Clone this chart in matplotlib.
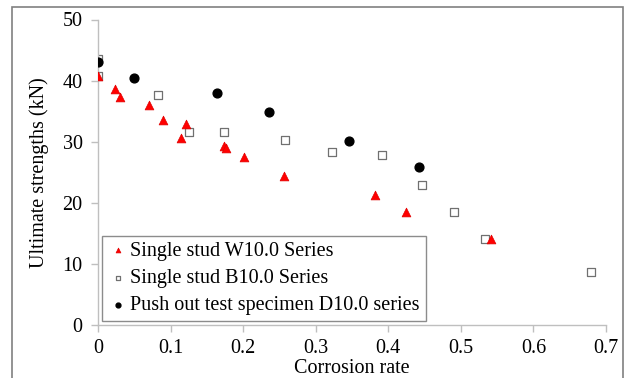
import matplotlib
matplotlib.use("Agg")
import matplotlib.pyplot as plt
from matplotlib.patches import Rectangle

w_x = [0.0, 0.023, 0.031, 0.070, 0.0895, 0.121, 0.115, 0.173, 0.177, 0.201, 0.256, 0.382, 0.424, 0.541]
w_y = [40.7, 38.6, 37.3, 36.0, 33.5, 32.9, 30.6, 29.3, 29.0, 27.5, 24.4, 21.3, 18.5, 14.1]
b_x = [0.0, 0.0, 0.0826, 0.126, 0.174, 0.258, 0.322, 0.392, 0.447, 0.490, 0.533, 0.680]
b_y = [43.5, 40.7, 37.6, 31.6, 31.6, 30.2, 28.3, 27.8, 22.9, 18.5, 14.1, 8.6]
d_x = [0.0, 0.0496, 0.164, 0.236, 0.346, 0.443]
d_y = [43.0, 40.5, 38.0, 34.9, 30.1, 25.8]

xticks = [0, 0.1, 0.2, 0.3, 0.4, 0.5, 0.6, 0.7]
xticklabels = ["0", "0.1", "0.2", "0.3", "0.4", "0.5", "0.6", "0.7"]
yticks = [0, 10, 20, 30, 40, 50]

plt.rcParams['font.family'] = ['Liberation Serif', 'DejaVu Serif']

W, H = 627, 378
FS = 14.5
fig = plt.figure(figsize=(W/100, H/100), dpi=100)
ax = fig.add_axes([98/W, 1-325/H, (606-98)/W, (325-19.5)/H])

ax.scatter(w_x, w_y, marker='^', s=40, color='#FF0000', edgecolors='#E00000', linewidths=0.5, zorder=3,
           label='Single stud W10.0 Series')
ax.scatter(b_x, b_y, marker='s', s=34, facecolors='white', edgecolors='#707070', linewidths=0.9, zorder=2,
           label='Single stud B10.0 Series')
ax.scatter(d_x, d_y, marker='o', s=40, color='black', zorder=4,
           label='Push out test specimen D10.0 series')

ax.set_xlim(0, 0.7)
ax.set_ylim(0, 50)
ax.set_xticks(xticks)
ax.set_xticklabels(xticklabels)
ax.set_yticks(yticks)
for s in ['top', 'right']:
    ax.spines[s].set_visible(False)
for s in ['left', 'bottom']:
    ax.spines[s].set_color('#BFBFBF')
    ax.spines[s].set_linewidth(1.0)
ax.tick_params(axis='both', colors='#BFBFBF', labelcolor='black', labelsize=FS, length=5, width=1.0)
ax.tick_params(axis='x', pad=5)
ax.tick_params(axis='y', pad=6)
ax.set_xlabel('Corrosion rate', fontsize=FS, labelpad=1)
ax.set_ylabel('Ultimate strengths (kN)', fontsize=FS, labelpad=10)

leg = ax.legend(loc='lower left', bbox_to_anchor=((102-98)/508, (325-321)/305.5), fontsize=FS,
                markerscale=0.55, frameon=True, fancybox=False, edgecolor='#707070',
                handletextpad=0.1, handlelength=1.0, borderpad=0.3, labelspacing=0.4, borderaxespad=0)
leg.get_frame().set_linewidth(1.0)

fig.patches.append(Rectangle((12/W, -0.1), (623-12)/W, 1.1-7/H, transform=fig.transFigure,
                             fill=False, edgecolor='#808080', linewidth=1.2))

fig.savefig('out.png', dpi=100)
